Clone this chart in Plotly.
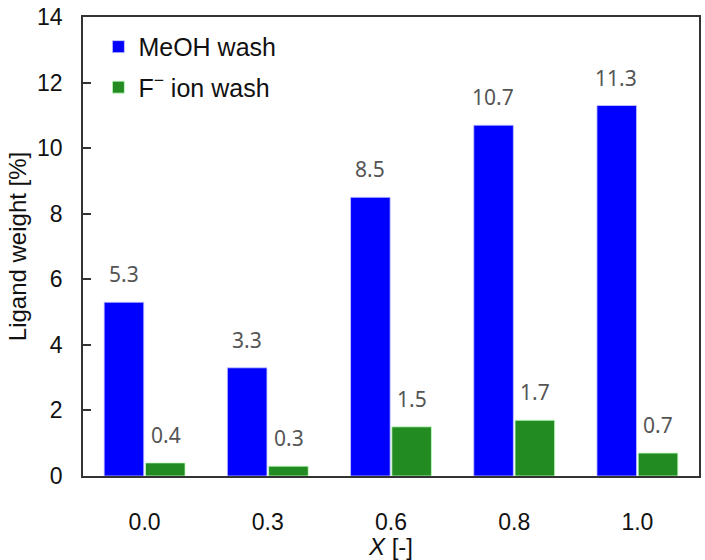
import plotly.graph_objects as go

categories = ["0.0", "0.3", "0.6", "0.8", "1.0"]
meoh_wash = [5.3, 3.3, 8.5, 10.7, 11.3]
f_ion_wash = [0.4, 0.3, 1.5, 1.7, 0.7]
series_names = ["MeOH wash", "F<sup>−</sup> ion wash"]
y_ticks = [0, 2, 4, 6, 8, 10, 12, 14]

BLUE = "#0000FF"
GREEN = "#228B22"
TICK_FONT = dict(family="Liberation Sans, Arial", size=23, color="#111111")
TITLE_FONT = dict(family="Liberation Sans, Arial", size=24, color="#111111")
LABEL_FONT = dict(family="Noto Sans, Roboto", size=21, color="#555555")

fig = go.Figure()
fig.add_trace(go.Bar(
    x=categories, y=meoh_wash, name=series_names[0],
    marker=dict(color=BLUE, line=dict(color="rgba(200,200,255,0.8)", width=1)),
    legendgroup="a",
))
fig.add_trace(go.Bar(
    x=categories, y=f_ion_wash, name=series_names[1],
    marker=dict(color=GREEN, line=dict(color="rgba(200,255,200,0.8)", width=1)),
    legendgroup="b",
))

annotations = []
for vals, shift in ((meoh_wash, -21), (f_ion_wash, 21)):
    for i, v in enumerate(vals):
        annotations.append(dict(
            x=i, y=v, xref="x", yref="y", text=f"{v:.1f}",
            showarrow=False, xshift=shift, yshift=12, yanchor="bottom",
            font=LABEL_FONT,
        ))

fig.update_layout(
    width=705, height=560,
    margin=dict(l=83, r=4, t=12, b=84),
    paper_bgcolor="white", plot_bgcolor="white",
    barmode="group", bargap=0.33, bargroupgap=0.04,
    showlegend=True,
    legend=dict(
        x=0.025, y=0.985, xanchor="left", yanchor="top",
        font=dict(family="Liberation Sans, Arial", size=25, color="#111111"),
        bgcolor="rgba(0,0,0,0)", tracegroupgap=5,
    ),
    annotations=annotations,
)
fig.update_xaxes(
    type="category",
    showline=True, linecolor="#333333", linewidth=1.5, mirror=True,
    ticks="", tickfont=TICK_FONT, ticklabelstandoff=25,
    title=dict(text="<i>X</i> [-]", font=TITLE_FONT, standoff=4),
    showgrid=False,
)
fig.update_yaxes(
    range=[0, 14], tickvals=y_ticks,
    showline=True, linecolor="#333333", linewidth=1.5, mirror=True,
    ticks="inside", ticklen=8, tickcolor="#333333", tickwidth=1.5,
    tickfont=TICK_FONT, ticklabelstandoff=14, ticklabeloverflow="allow",
    title=dict(text="Ligand weight [%]", font=TITLE_FONT, standoff=4),
    showgrid=False, zeroline=False,
)

fig.write_html("out.html")
